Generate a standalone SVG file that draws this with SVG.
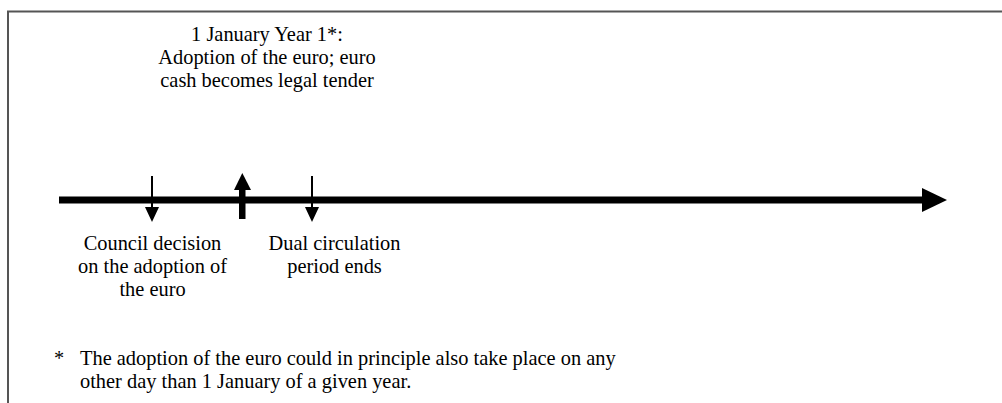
<svg xmlns="http://www.w3.org/2000/svg" width="1002" height="403" viewBox="0 0 1002 403">
<style>
text{font-family:"Liberation Serif","Times New Roman",serif;font-size:20.4px;fill:#000}
.c{text-anchor:middle}
.frame{fill:none;stroke:#555;stroke-width:2}
</style>
<rect width="1002" height="403" fill="#fff"/>
<path class="frame" d="M8,403 V11.5 H1002"/>
<g id="connectors">
<rect x="59" y="196.5" width="866" height="7" fill="#000"/>
<polygon points="922,188 947,200 922,212" fill="#000"/>
<g id="arrow-council">
<line x1="152" y1="176" x2="152" y2="208" stroke="#000" stroke-width="2"/>
<polygon points="145,207 159,207 152,222" fill="#000"/>
</g>
<g id="arrow-adoption">
<rect x="239" y="189" width="6.5" height="30" fill="#000"/>
<polygon points="234,190 251,190 242.3,173" fill="#000"/>
</g>
<g id="arrow-dual">
<line x1="312" y1="176" x2="312" y2="208" stroke="#000" stroke-width="2"/>
<polygon points="305,207 319,207 312,222" fill="#000"/>
</g>
</g>
<g id="node-adoption">
<text class="c" x="267" y="41">1 January Year 1*:</text>
<text class="c" x="267" y="64">Adoption of the euro; euro</text>
<text class="c" x="267" y="87">cash becomes legal tender</text>
</g>
<g id="node-council">
<text class="c" x="152.5" y="250">Council decision</text>
<text class="c" x="152.5" y="273">on the adoption of</text>
<text class="c" x="152.5" y="296">the euro</text>
</g>
<g id="node-dual">
<text class="c" x="334.5" y="250">Dual circulation</text>
<text class="c" x="334.5" y="273">period ends</text>
</g>
<g id="footnote">
<text x="54" y="365">*</text>
<text x="80" y="365">The adoption of the euro could in principle also take place on any</text>
<text x="80" y="388">other day than 1 January of a given year.</text>
</g>
</svg>
